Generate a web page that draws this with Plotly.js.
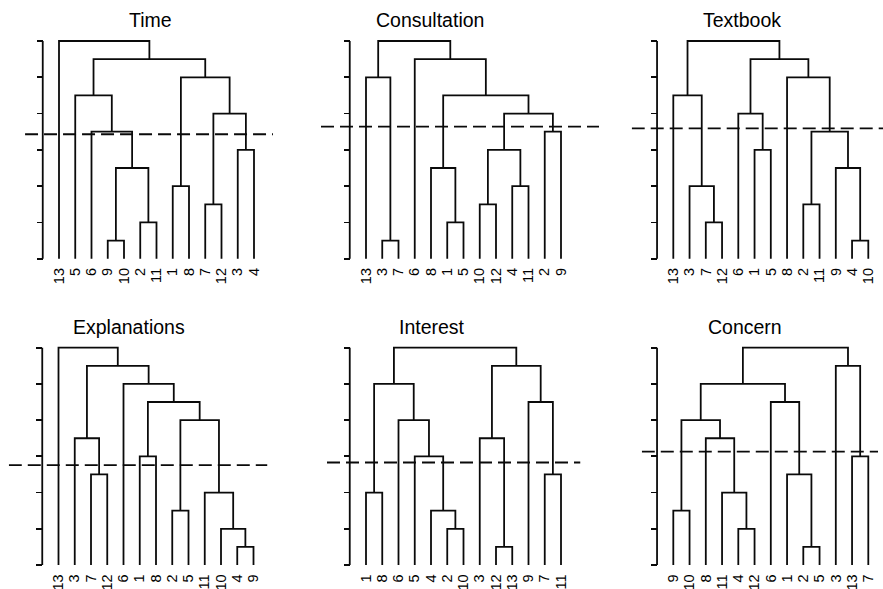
<!DOCTYPE html>
<html><head><meta charset="utf-8">
<script src="https://cdn.plot.ly/plotly-3.0.1.min.js"></script>
<style>html,body{margin:0;padding:0;background:#fff}#chart{width:883px;height:589px}</style>
</head><body><div id="chart"></div>
<script>
// ---- data ----
const titles = ["Time", "Consultation", "Textbook", "Explanations", "Interest", "Concern"];

const leaves1 = [13, 5, 6, 9, 10, 2, 11, 1, 8, 7, 12, 3, 4];
const leaves2 = [13, 3, 7, 6, 8, 1, 5, 10, 12, 4, 11, 2, 9];
const leaves3 = [13, 3, 7, 12, 6, 1, 5, 8, 2, 11, 9, 4, 10];
const leaves4 = [13, 3, 7, 12, 6, 1, 8, 2, 5, 11, 10, 4, 9];
const leaves5 = [1, 8, 6, 5, 4, 2, 10, 3, 12, 13, 9, 7, 11];
const leaves6 = [9, 10, 8, 11, 4, 12, 6, 1, 2, 5, 3, 13, 7];

// merge pairs (negative = leaf label, positive = earlier merge step) and merge heights
const merge1 = [[-9,-10],[-2,-11],[-7,-12],[-1,-8],[1,2],[-3,-4],[-6,5],[3,6],[-5,7],[4,8],[9,10],[-13,11]];
const height1 = [0.5, 1, 1.5, 2, 2.5, 3, 3.5, 4, 4.5, 5, 5.5, 6];
const merge2 = [[-3,-7],[-1,-5],[-10,-12],[-4,-11],[-8,2],[3,4],[-2,-9],[6,7],[5,8],[-13,1],[-6,9],[10,11]];
const height2 = [0.5, 1, 1.5, 2, 2.5, 3, 3.5, 4, 4.5, 5, 5.5, 6];
const merge3 = [[-4,-10],[-7,-12],[-2,-11],[-3,2],[-9,1],[-1,-5],[3,5],[-6,6],[-13,4],[-8,7],[8,10],[9,11]];
const height3 = [0.5, 1, 1.5, 2, 2.5, 3, 3.5, 4, 4.5, 5, 5.5, 6];
const merge4 = [[-4,-9],[-10,1],[-2,-5],[-11,2],[-7,-12],[-1,-8],[-3,5],[3,4],[6,8],[-6,9],[7,10],[-13,11]];
const height4 = [0.5, 1, 1.5, 2, 2.5, 3, 3.5, 4, 4.5, 5, 5.5, 6];
const merge5 = [[-12,-13],[-2,-10],[-4,2],[-1,-8],[-7,-11],[-5,3],[-3,1],[-6,6],[-9,5],[4,8],[7,9],[10,11]];
const height5 = [0.5, 1, 1.5, 2, 2.5, 3, 3.5, 4, 4.5, 5, 5.5, 6];
const merge6 = [[-2,-5],[-4,-12],[-9,-10],[-11,2],[-1,1],[-7,-13],[-8,4],[3,7],[-6,5],[8,9],[-3,6],[10,11]];
const height6 = [0.5, 1, 1.5, 2, 2.5, 3, 3.5, 4, 4.5, 5, 5.5, 6];

const cutHeight = [3.43, 3.64, 3.59, 2.76, 2.83, 3.13];
const cutFrom = [-1.09, -1.77, -1.56, -2.06, -1.4, -0.94];
const cutTo = [14.17, 15.34, 14.0, 13.86, 14.2, 13.6];
const yTicks = [0, 1, 2, 3, 4, 5, 6];

// ---- build ----
const panels = [
  [leaves1, merge1, height1], [leaves2, merge2, height2], [leaves3, merge3, height3],
  [leaves4, merge4, height4], [leaves5, merge5, height5], [leaves6, merge6, height6]
];
const W = 883, H = 589;
const leaf1px = [59, 366, 673.3, 58.5, 366, 673.3];
const sp = 16.25;
const zeroPy = [258.7, 258.7, 258.7, 565, 565, 565];
const unitPy = [36.28, 36.28, 36.28, 36.22, 36.22, 36.22];
const titleX = [150, 430, 742, 129, 432, 745];
const titleY = [20, 20, 20, 327, 327, 327];
const FONT = "Liberation Sans, Arial, sans-serif";
const INK = "#0a0a0a";
const LW = 1.8;

const traces = [], shapes = [], annotations = [];
const layout = {
  width: W, height: H, autosize: false, showlegend: false,
  margin: {l: 0, r: 0, t: 0, b: 0}, paper_bgcolor: "#fff", plot_bgcolor: "rgba(0,0,0,0)",
  font: {family: FONT, color: "#000"}
};

panels.forEach(([order, merge, hts], k) => {
  const sfx = k === 0 ? "" : String(k + 1);
  const xa = "x" + sfx, ya = "y" + sfx;
  const pos = {};
  order.forEach((lab, i) => { pos[lab] = i + 1; });
  const nodeX = [], nodeY = [];
  const xs = [], ys = [];
  const child = (c) => c < 0 ? [pos[-c], 0] : [nodeX[c - 1], nodeY[c - 1]];
  merge.forEach(([a, b], i) => {
    const [x1, y1] = child(a), [x2, y2] = child(b);
    const h = hts[i];
    xs.push(x1, x1, x2, x2, null);
    ys.push(y1, h, h, y2, null);
    nodeX.push((x1 + x2) / 2); nodeY.push(h);
  });
  traces.push({type: "scatter", mode: "lines", x: xs, y: ys, xaxis: xa, yaxis: ya,
    line: {color: INK, width: LW}, hoverinfo: "skip"});
  traces.push({type: "scatter", mode: "lines", x: [cutFrom[k], cutTo[k]], y: [cutHeight[k], cutHeight[k]],
    xaxis: xa, yaxis: ya, line: {color: INK, width: LW, dash: "13px,6px"}, hoverinfo: "skip"});

  // axes geometry
  const lp = leaf1px[k];
  let x0 = Math.min(cutFrom[k], -0.5);
  let x1 = Math.max(cutTo[k], order.length + 0.5);
  x1 = Math.min(x1, (W - lp) / sp + 1);
  x0 = Math.max(x0, (0 - lp) / sp + 1);
  const dx0 = (lp + (x0 - 1) * sp) / W, dx1 = (lp + (x1 - 1) * sp) / W;
  const y0 = -0.15, y1 = 6.15;
  const dyTop = zeroPy[k] - y1 * unitPy[k], dyBot = zeroPy[k] - y0 * unitPy[k];
  layout["xaxis" + sfx] = {
    domain: [dx0, dx1], range: [x0, x1], anchor: ya,
    tickmode: "array", tickvals: order.map((_, i) => i + 1), ticktext: order.map(String),
    tickangle: -90, ticks: "", showline: false, showgrid: false, zeroline: false,
    tickfont: {family: FONT, size: 14.5, color: "#000"}, fixedrange: true
  };
  layout["yaxis" + sfx] = {
    domain: [1 - dyBot / H, 1 - dyTop / H], range: [y0, y1], anchor: "free",
    position: (lp - sp) / W, tickmode: "array", tickvals: yTicks,
    ticks: "outside", ticklen: 6, tickwidth: LW, tickcolor: INK,
    showticklabels: false, showline: false, showgrid: false, zeroline: false, fixedrange: true
  };
  shapes.push({type: "line", xref: xa, yref: ya, x0: 0, x1: 0,
    y0: yTicks[0], y1: yTicks[yTicks.length - 1], line: {color: INK, width: LW}});
  annotations.push({text: titles[k], xref: "paper", yref: "paper", x: titleX[k] / W, y: 1 - titleY[k] / H,
    xanchor: "center", yanchor: "middle", showarrow: false,
    font: {family: FONT, size: 19.5, color: "#000"}});
});
layout.shapes = shapes;
layout.annotations = annotations;
Plotly.newPlot("chart", traces, layout, {staticPlot: true, displayModeBar: false});
</script>
</body></html>
